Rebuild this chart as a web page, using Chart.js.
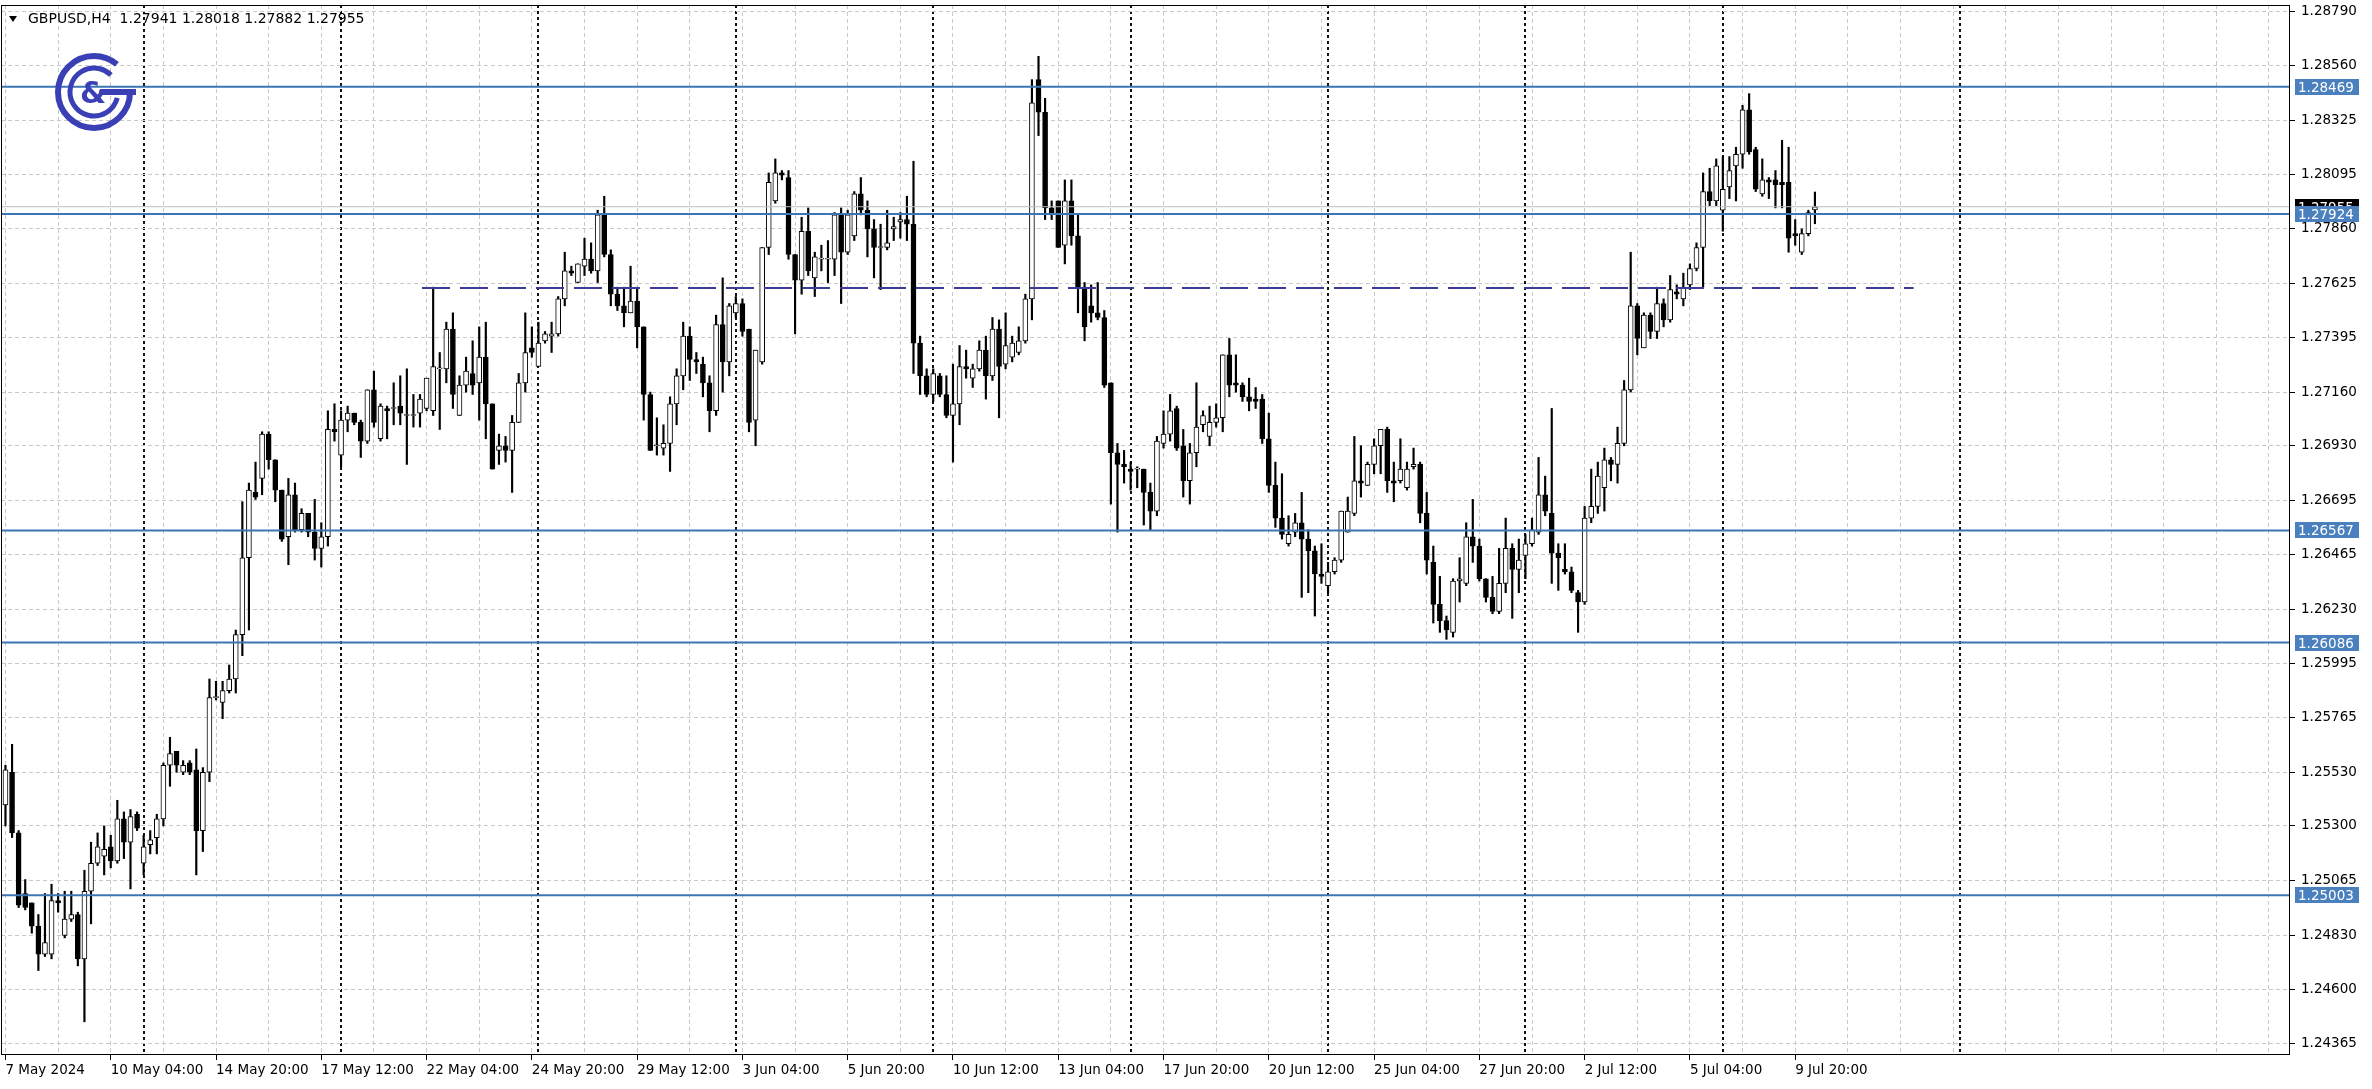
<!DOCTYPE html>
<html lang="en">
<head>
<meta charset="utf-8">
<title>GBPUSD,H4</title>
<script src="https://cdn.jsdelivr.net/npm/chart.js@4.4.1/dist/chart.umd.min.js"></script>
<style>
  html, body { margin: 0; padding: 0; background: #ffffff; }
  canvas { display: block; }
</style>
</head>
<body>
<canvas id="chart" width="2372" height="1089"></canvas>
<script>
// GBPUSD H4 bars, 7 May 2024 12:00 -> 10 Jul 2024 08:00
const opens = [
  1.2539,1.2553,1.2527,1.2501,1.2497,1.2487,1.2475,1.2475,1.2498,1.2483,
  1.2490,1.2492,1.2473,1.2502,1.2514,1.2517,1.2521,1.2515,1.2533,1.2523,
  1.2535,1.2514,1.2522,1.2525,1.2533,1.2556,1.2562,1.2553,1.2557,1.2554,
  1.2528,1.2553,1.2585,1.2583,1.2588,1.2593,1.2612,1.2645,1.2673,1.2679,
  1.2698,1.2687,1.2674,1.2654,1.2672,1.2657,1.2664,1.2656,1.2649,1.2654,
  1.2700,1.2689,1.2704,1.2707,1.2703,1.2695,1.2717,1.2696,1.2709,1.2709,
  1.2710,1.2706,1.2706,1.2707,1.2709,1.2708,1.2726,1.2726,1.2743,1.2706,
  1.2719,1.2724,1.2720,1.2731,1.2711,1.2691,1.2693,1.2691,1.2703,1.2720,
  1.2735,1.2727,1.2738,1.2740,1.2741,1.2756,1.2768,1.2763,1.2770,1.2773,
  1.2768,1.2792,1.2775,1.2758,1.2753,1.2750,1.2755,1.2744,1.2715,1.2693,
  1.2692,1.2694,1.2711,1.2723,1.2740,1.2730,1.2728,1.2720,1.2708,1.2745,
  1.2729,1.2750,1.2754,1.2743,1.2704,1.2729,1.2778,1.2798,1.2810,1.2808,
  1.2775,1.2764,1.2785,1.2765,1.2773,1.2773,1.2773,1.2792,1.2776,1.2783,
  1.2801,1.2794,1.2786,1.2778,1.2778,1.2786,1.2789,1.2790,1.2788,1.2737,
  1.2723,1.2715,1.2723,1.2715,1.2706,1.2711,1.2727,1.2722,1.2726,1.2734,
  1.2723,1.2743,1.2728,1.2731,1.2733,1.2738,1.2756,1.2850,1.2836,1.2795,
  1.2798,1.2779,1.2798,1.2783,1.2761,1.2753,1.2750,1.2748,1.2720,1.2690,
  1.2685,1.2683,1.2683,1.2683,1.2673,1.2665,1.2694,1.2698,1.2709,1.2693,
  1.2678,1.2690,1.2702,1.2697,1.2703,1.2705,1.2732,1.2720,1.2719,1.2714,
  1.2713,1.2713,1.2696,1.2676,1.2662,1.2651,1.2656,1.2660,1.2653,1.2648,
  1.2638,1.2633,1.2639,1.2644,1.2656,1.2664,1.2678,1.2676,1.2685,1.2693,
  1.2700,1.2678,1.2678,1.2675,1.2684,1.2685,1.2664,1.2643,1.2625,1.2618,
  1.2613,1.2635,1.2634,1.2654,1.2650,1.2636,1.2628,1.2622,1.2634,1.2649,
  1.2640,1.2646,1.2651,1.2656,1.2672,1.2664,1.2647,1.2640,1.2639,1.2630,
  1.2626,1.2662,1.2667,1.2675,1.2687,1.2685,1.2694,1.2717,1.2753,1.2735,
  1.2749,1.2742,1.2754,1.2747,1.2759,1.2756,1.2762,1.2769,1.2778,1.2802,
  1.2798,1.2794,1.2804,1.2813,1.2818,1.2837,1.2820,1.2801,1.2807,1.2807,
  1.2806,1.2806,1.2784,1.2776,1.2784,1.27941
];
const highs = [
  1.2556,1.2565,1.2528,1.2507,1.2497,1.2492,1.2501,1.2505,1.2501,1.2502,
  1.2502,1.2493,1.2511,1.2523,1.2527,1.2530,1.2526,1.2541,1.2536,1.2537,
  1.2536,1.2526,1.2528,1.2535,1.2557,1.2568,1.2562,1.2558,1.2558,1.2563,
  1.2555,1.2593,1.2592,1.2592,1.2599,1.2614,1.2669,1.2677,1.2686,1.2699,
  1.2699,1.2687,1.2674,1.2679,1.2677,1.2666,1.2664,1.2670,1.2660,1.2708,
  1.2711,1.2708,1.2710,1.2707,1.2704,1.2717,1.2725,1.2711,1.2710,1.2720,
  1.2723,1.2726,1.2715,1.2715,1.2722,1.2761,1.2733,1.2746,1.2750,1.2723,
  1.2731,1.2738,1.2744,1.2746,1.2711,1.2698,1.2697,1.2706,1.2724,1.2750,
  1.2744,1.2746,1.2742,1.2746,1.2757,1.2776,1.2770,1.2771,1.2782,1.2780,
  1.2794,1.2800,1.2777,1.2761,1.2761,1.2770,1.2761,1.2744,1.2716,1.2705,
  1.2702,1.2714,1.2726,1.2746,1.2744,1.2733,1.2731,1.2723,1.2749,1.2765,
  1.2754,1.2757,1.2756,1.2743,1.2734,1.2778,1.2810,1.2816,1.2811,1.2811,
  1.2775,1.2791,1.2795,1.2776,1.2779,1.2781,1.2793,1.2795,1.2794,1.2802,
  1.2808,1.2798,1.2790,1.2788,1.2794,1.2791,1.2793,1.2800,1.2815,1.2740,
  1.2726,1.2726,1.2724,1.2723,1.2728,1.2736,1.2734,1.2728,1.2738,1.2740,
  1.2748,1.2747,1.2750,1.2740,1.2744,1.2758,1.2850,1.2860,1.2842,1.2798,
  1.2798,1.2807,1.2807,1.2792,1.2763,1.2762,1.2763,1.2751,1.2720,1.2694,
  1.2691,1.2686,1.2684,1.2683,1.2677,1.2697,1.2708,1.2715,1.2710,1.2700,
  1.2694,1.2720,1.2708,1.2710,1.2711,1.2732,1.2739,1.2732,1.2720,1.2722,
  1.2718,1.2715,1.2707,1.2686,1.2681,1.2663,1.2664,1.2673,1.2657,1.2650,
  1.2651,1.2643,1.2645,1.2665,1.2671,1.2697,1.2693,1.2686,1.2696,1.2700,
  1.2701,1.2686,1.2696,1.2686,1.2692,1.2686,1.2673,1.2650,1.2637,1.2620,
  1.2636,1.2645,1.2660,1.2670,1.2653,1.2636,1.2637,1.2649,1.2662,1.2651,
  1.2653,1.2655,1.2662,1.2688,1.2680,1.2709,1.2651,1.2651,1.2641,1.2631,
  1.2667,1.2683,1.2686,1.2692,1.2688,1.2701,1.2721,1.2776,1.2754,1.2750,
  1.2750,1.2761,1.2756,1.2766,1.2762,1.2767,1.2771,1.2780,1.2810,1.2812,
  1.2816,1.2817,1.2817,1.2821,1.2839,1.2844,1.2821,1.2816,1.2808,1.2811,
  1.2824,1.2821,1.2790,1.2786,1.2794,1.28018
];
const lows = [
  1.2530,1.2525,1.2495,1.2494,1.2484,1.2468,1.2474,1.2473,1.2493,1.2482,
  1.2489,1.2470,1.2446,1.2488,1.2513,1.2509,1.2512,1.2514,1.2516,1.2503,
  1.2528,1.2509,1.2518,1.2518,1.2530,1.2547,1.2553,1.2552,1.2552,1.2509,
  1.2519,1.2549,1.2584,1.2576,1.2587,1.2587,1.2603,1.2614,1.2670,1.2672,
  1.2683,1.2669,1.2652,1.2642,1.2656,1.2656,1.2654,1.2644,1.2641,1.2650,
  1.2695,1.2684,1.2699,1.2702,1.2688,1.2694,1.2701,1.2695,1.2696,1.2702,
  1.2702,1.2685,1.2701,1.2701,1.2708,1.2706,1.2700,1.2720,1.2709,1.2706,
  1.2716,1.2715,1.2704,1.2696,1.2683,1.2685,1.2686,1.2673,1.2703,1.2716,
  1.2731,1.2727,1.2737,1.2733,1.2740,1.2753,1.2766,1.2763,1.2766,1.2767,
  1.2763,1.2774,1.2753,1.2751,1.2744,1.2750,1.2735,1.2704,1.2691,1.2689,
  1.2689,1.2682,1.2702,1.2717,1.2721,1.2724,1.2714,1.2699,1.2706,1.2716,
  1.2723,1.2748,1.2740,1.2699,1.2693,1.2728,1.2775,1.2797,1.2807,1.2773,
  1.2741,1.2758,1.2766,1.2757,1.2768,1.2763,1.2766,1.2754,1.2775,1.2781,
  1.2792,1.2774,1.2765,1.2760,1.2777,1.2781,1.2782,1.2781,1.2724,1.2715,
  1.2714,1.2712,1.2714,1.2705,1.2686,1.2702,1.2722,1.2718,1.2725,1.2713,
  1.2721,1.2705,1.2726,1.2729,1.2732,1.2737,1.2747,1.2826,1.2790,1.2790,
  1.2778,1.2771,1.2779,1.2750,1.2738,1.2746,1.2747,1.2718,1.2668,1.2656,
  1.2677,1.2674,1.2675,1.2659,1.2657,1.2663,1.2692,1.2695,1.2691,1.2671,
  1.2668,1.2684,1.2699,1.2693,1.2701,1.2699,1.2714,1.2716,1.2712,1.2708,
  1.2709,1.2694,1.2673,1.2658,1.2653,1.2650,1.2654,1.2628,1.2630,1.2620,
  1.2634,1.2630,1.2638,1.2643,1.2656,1.2663,1.2671,1.2676,1.2681,1.2681,
  1.2673,1.2669,1.2677,1.2674,1.2683,1.2660,1.2638,1.2617,1.2613,1.2610,
  1.2611,1.2626,1.2633,1.2643,1.2635,1.2626,1.2621,1.2621,1.2630,1.2619,
  1.2630,1.2636,1.2650,1.2655,1.2663,1.2634,1.2631,1.2638,1.2630,1.2613,
  1.2625,1.2660,1.2664,1.2665,1.2678,1.2677,1.2693,1.2716,1.2732,1.2735,
  1.2739,1.2739,1.2744,1.2746,1.2756,1.2753,1.2760,1.2768,1.2761,1.2796,
  1.2796,1.2785,1.2799,1.2798,1.2812,1.2818,1.2802,1.2800,1.2799,1.2795,
  1.2795,1.2776,1.2779,1.2775,1.2783,1.27882
];
const closes = [
  1.2554,1.2527,1.2496,1.2495,1.2487,1.2475,1.2480,1.2498,1.2497,1.2490,
  1.2492,1.2473,1.2502,1.2514,1.2521,1.2520,1.2515,1.2533,1.2523,1.2534,
  1.2529,1.2521,1.2524,1.2533,1.2556,1.2561,1.2556,1.2556,1.2553,1.2528,
  1.2553,1.2585,1.2585,1.2588,1.2593,1.2612,1.2645,1.2674,1.2671,1.2698,
  1.2687,1.2674,1.2653,1.2672,1.2657,1.2664,1.2656,1.2649,1.2654,1.2700,
  1.2699,1.2704,1.2707,1.2703,1.2695,1.2717,1.2703,1.2710,1.2708,1.2709,
  1.2707,1.2706,1.2706,1.2713,1.2722,1.2727,1.2726,1.2743,1.2715,1.2719,
  1.2725,1.2719,1.2731,1.2711,1.2683,1.2693,1.2691,1.2703,1.2720,1.2733,
  1.2733,1.2737,1.2741,1.2741,1.2756,1.2768,1.2767,1.2771,1.2773,1.2768,
  1.2792,1.2775,1.2758,1.2753,1.2750,1.2755,1.2744,1.2715,1.2691,1.2693,
  1.2694,1.2711,1.2723,1.2740,1.2730,1.2729,1.2720,1.2708,1.2745,1.2729,
  1.2753,1.2754,1.2742,1.2703,1.2734,1.2778,1.2806,1.2810,1.2809,1.2775,
  1.2764,1.2785,1.2768,1.2774,1.2773,1.2773,1.2792,1.2776,1.2792,1.2801,
  1.2794,1.2786,1.2778,1.2778,1.2780,1.2787,1.2790,1.2788,1.2737,1.2723,
  1.2715,1.2724,1.2715,1.2706,1.2711,1.2727,1.2726,1.2726,1.2734,1.2723,
  1.2743,1.2727,1.2736,1.2737,1.2738,1.2756,1.2840,1.2836,1.2795,1.2793,
  1.2778,1.2798,1.2783,1.2761,1.2744,1.2750,1.2748,1.2719,1.2690,1.2685,
  1.2684,1.2682,1.2683,1.2673,1.2665,1.2695,1.2698,1.2708,1.2692,1.2678,
  1.2690,1.2701,1.2706,1.2703,1.2705,1.2732,1.2719,1.2719,1.2714,1.2712,
  1.2712,1.2696,1.2676,1.2662,1.2655,1.2655,1.2660,1.2653,1.2648,1.2638,
  1.2637,1.2639,1.2644,1.2665,1.2665,1.2678,1.2677,1.2685,1.2693,1.2700,
  1.2678,1.2677,1.2683,1.2683,1.2685,1.2664,1.2644,1.2625,1.2618,1.2614,
  1.2635,1.2636,1.2654,1.2650,1.2636,1.2628,1.2622,1.2634,1.2649,1.2640,
  1.2644,1.2651,1.2657,1.2672,1.2665,1.2647,1.2645,1.2639,1.2631,1.2626,
  1.2662,1.2667,1.2680,1.2687,1.2685,1.2694,1.2717,1.2753,1.2739,1.2749,
  1.2742,1.2754,1.2747,1.2760,1.2758,1.2761,1.2769,1.2778,1.2802,1.2798,
  1.2813,1.2803,1.2811,1.2818,1.2837,1.2819,1.2803,1.2807,1.2806,1.2805,
  1.2805,1.2782,1.2783,1.2784,1.2793,1.27955
];

// time scale labels, one every 16 bars starting at bar 0
const timeLabels = [
  '7 May 2024', '10 May 04:00', '14 May 20:00', '17 May 12:00', '22 May 04:00',
  '24 May 20:00', '29 May 12:00', '3 Jun 04:00', '5 Jun 20:00', '10 Jun 12:00',
  '13 Jun 04:00', '17 Jun 20:00', '20 Jun 12:00', '25 Jun 04:00', '27 Jun 20:00',
  '2 Jul 12:00', '5 Jul 04:00', '9 Jul 20:00'
];
// price scale labels as printed on the right axis
const priceTicks = [
  1.28790, 1.28560, 1.28325, 1.28095, 1.27860, 1.27625, 1.27395, 1.27160, 1.26930, 1.26695,
  1.26465, 1.26230, 1.25995, 1.25765, 1.25530, 1.25300, 1.25065, 1.24830, 1.24600, 1.24365
];
// horizontal levels
const levels = [1.28469, 1.27924, 1.26567, 1.26086, 1.25003];
const bidPrice = 1.27955;
const dashedLevel = 1.27606;
const dashedFrom = 63.3, dashedTo = 290;
// period separators (bar positions of the dark dotted verticals)
const separators = [21, 51, 81, 111, 141, 171, 201, 231, 261, 297];

const X_MIN = -0.68, X_MAX = 347.2;
const Y_MIN = 1.24322, Y_MAX = 1.28820;
const FONT = '"DejaVu Sans", Verdana, sans-serif';

const bodies = opens.map((o, i) => ({ x: i, y: [o, closes[i]] }));
const wicks = lows.map((l, i) => ({ x: i, y: [l, highs[i]] }));
const bodyFill = opens.map((o, i) => closes[i] >= o ? '#ffffff' : '#000000');

const isSep = v => separators.includes(v);

function flatLine(v, from, to) {
  return [{ x: from, y: v }, { x: to, y: v }];
}

const levelSets = levels.map(v => ({
  type: 'line',
  data: flatLine(v, X_MIN, X_MAX),
  borderColor: '#3d74b3',
  borderWidth: 2,
  pointRadius: 0,
  order: 0
}));

// logo, title line and axis price tags
const overlay = {
  id: 'overlay',
  afterDraw(chart) {
    const { ctx, chartArea: a } = chart;
    const y = chart.scales.y;
    ctx.save();

    // frame
    ctx.strokeStyle = '#000';
    ctx.lineWidth = 1;
    ctx.strokeRect(a.left + 0.5, a.top + 0.5, a.right - a.left - 1, a.bottom - a.top);

    // symbol line
    const last = opens.length - 1;
    ctx.fillStyle = '#000';
    ctx.beginPath();
    ctx.moveTo(9, 16); ctx.lineTo(17, 16); ctx.lineTo(13, 22); ctx.closePath();
    ctx.fill();
    ctx.font = '14px ' + FONT;
    ctx.textBaseline = 'middle';
    ctx.textAlign = 'left';
    const ohlc = [opens[last], highs[last], lows[last], closes[last]].map(v => v.toFixed(5)).join(' ');
    ctx.fillText('GBPUSD,H4  ' + ohlc, 28, 19);

    // logo
    const cx = 94, cy = 92;
    ctx.strokeStyle = '#3a3fb6';
    ctx.fillStyle = '#3a3fb6';
    ctx.lineWidth = 6;
    ctx.beginPath(); ctx.arc(cx, cy, 36, 0, Math.PI * 1.72); ctx.stroke();
    ctx.beginPath(); ctx.moveTo(cx + 6, cy); ctx.lineTo(cx + 42, cy); ctx.stroke();
    ctx.lineWidth = 5;
    ctx.beginPath(); ctx.arc(cx, cy, 24, Math.PI * 0.08, Math.PI * 1.75); ctx.stroke();
    ctx.font = 'bold 30px ' + FONT;
    ctx.textAlign = 'center';
    ctx.fillText('&', cx - 1, cy + 3);

    // price tags on the axis
    ctx.font = '13.5px ' + FONT;
    ctx.textAlign = 'left';
    const tag = (v, fill) => {
      const py = Math.round(y.getPixelForValue(v));
      ctx.fillStyle = fill;
      ctx.fillRect(a.right + 5, py - 8, 64, 16);
      ctx.fillStyle = '#fff';
      ctx.fillText(v.toFixed(5), a.right + 8, py + 1);
    };
    tag(bidPrice, '#000');
    levels.forEach(v => tag(v, '#4a80be'));
    ctx.restore();
  }
};

new Chart(document.getElementById('chart'), {
  type: 'bar',
  data: {
    datasets: [
      ...levelSets,
      {
        type: 'line',
        data: flatLine(bidPrice, X_MIN, X_MAX),
        borderColor: '#bdbdbd',
        borderWidth: 1,
        pointRadius: 0,
        order: 0
      },
      {
        type: 'line',
        data: flatLine(dashedLevel, dashedFrom, dashedTo),
        borderColor: '#3b3b98',
        borderWidth: 2,
        borderDash: [28, 10],
        pointRadius: 0,
        order: 0
      },
      {
        type: 'bar',
        data: bodies,
        backgroundColor: bodyFill,
        borderColor: '#000',
        borderWidth: 1,
        borderSkipped: false,
        barThickness: 5,
        minBarLength: 1,
        grouped: false,
        order: 1
      },
      {
        type: 'bar',
        data: wicks,
        backgroundColor: '#000',
        barThickness: 1.5,
        grouped: false,
        order: 2
      }
    ]
  },
  options: {
    responsive: false,
    animation: false,
    devicePixelRatio: 1,
    layout: { padding: { left: 1, top: 5, right: 0, bottom: 0 } },
    plugins: { legend: { display: false }, tooltip: { enabled: false } },
    scales: {
      x: {
        type: 'linear',
        min: X_MIN,
        max: X_MAX,
        offset: false,
        afterBuildTicks: scale => {
          const vals = new Set(separators);
          for (let i = 0; i <= X_MAX; i += 8) vals.add(i);
          scale.ticks = [...vals].sort((p, q) => p - q).map(v => ({ value: v }));
        },
        afterFit: scale => {
          scale.height = 35;
          scale.paddingLeft = 0;
          scale.paddingRight = 0;
        },
        ticks: {
          autoSkip: false,
          maxRotation: 0,
          minRotation: 0,
          align: 'start',
          padding: 2,
          color: '#000',
          font: { family: FONT, size: 13.5 },
          callback: v => (v % 16 === 0 && timeLabels[v / 16]) ? timeLabels[v / 16] : ''
        },
        grid: {
          offset: false,
          color: c => isSep(c.tick && c.tick.value) ? '#111' : '#c9c9c9',
          lineWidth: c => isSep(c.tick && c.tick.value) ? 2 : 1,
          tickColor: c => (c.tick && c.tick.value % 16 === 0 && timeLabels[c.tick.value / 16]) ? '#000' : 'rgba(0,0,0,0)',
          tickLength: 6,
          tickBorderDash: []
        },
        border: {
          display: false,
          dash: c => isSep(c.tick && c.tick.value) ? [3, 3] : [4, 3]
        }
      },
      y: {
        type: 'linear',
        position: 'right',
        min: Y_MIN,
        max: Y_MAX,
        beginAtZero: false,
        afterBuildTicks: scale => {
          scale.ticks = priceTicks.map(v => ({ value: v }));
        },
        afterFit: scale => {
          scale.width = 82;
          scale.paddingTop = 0;
          scale.paddingBottom = 0;
        },
        ticks: {
          padding: 6,
          color: '#000',
          font: { family: FONT, size: 13.5 },
          callback: v => v.toFixed(5)
        },
        grid: {
          color: '#c9c9c9',
          tickColor: '#000',
          tickLength: 5,
          tickBorderDash: []
        },
        border: { display: false, dash: [4, 3] }
      }
    }
  },
  plugins: [overlay]
});
</script>
</body>
</html>
